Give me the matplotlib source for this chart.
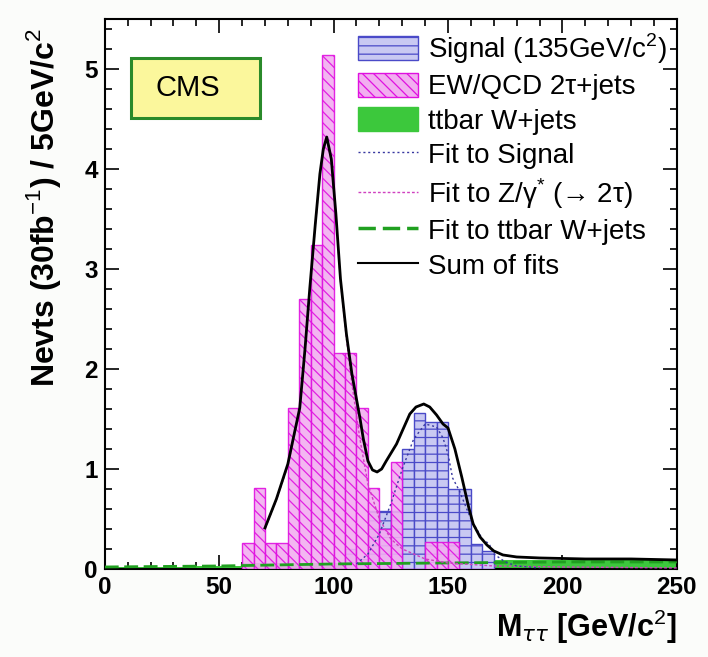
import numpy as np
import matplotlib
matplotlib.use("Agg")
import matplotlib.pyplot as plt
from matplotlib.patches import Patch, Rectangle
from matplotlib.lines import Line2D
from matplotlib.ticker import MultipleLocator

plt.rcParams['font.family'] = ['Liberation Sans', 'DejaVu Sans']
plt.rcParams['mathtext.fontset'] = 'custom'
plt.rcParams['mathtext.rm'] = 'Liberation Sans'
plt.rcParams['mathtext.bf'] = 'Liberation Sans:bold'
plt.rcParams['hatch.linewidth'] = 0.9

# ---------------- data ----------------
bin_left = [60, 65, 70, 75, 80, 85, 90, 95, 100, 105, 110, 115, 120, 125, 130,
            135, 140, 145, 150, 155, 160, 165]
ew_qcd = [0.26, 0.81, 0.26, 0.26, 1.61, 2.70, 3.24, 5.14, 2.16, 2.16, 1.61, 0.81,
          0.40, 1.07, 0.0, 0.0, 0.27, 0.27, 0.27, 0.0, 0.0, 0.0]
signal = [0.0, 0.0, 0.0, 0.0, 0.0, 0.0, 0.0, 0.0, 0.0, 0.20, 0.10, 0.58,
          0.58, 0.58, 1.20, 1.56, 1.47, 1.47, 0.80, 0.80, 0.25, 0.18]

tt_left = list(range(0, 250, 5))
ttbar = [0.02] * 8 + [0.03] * 4 + [0.06] * 14 + [0.09] * 24

sum_x = [70, 75, 80, 85.2, 87.5, 89.6, 92, 94, 95.5, 97, 99, 101, 103, 105.6, 108,
         111.5, 113, 115, 117, 119, 121, 123, 127.5, 130, 133.3, 136, 139.4, 142,
         145, 147.8, 150, 153, 156, 159, 161, 164, 167, 170, 174, 180, 190, 210,
         230, 250]
sum_y = [0.41, 0.70, 1.05, 1.61, 2.20, 2.81, 3.45, 3.95, 4.20, 4.32, 4.10, 3.55,
         2.90, 2.35, 1.95, 1.51, 1.30, 1.08, 0.99, 0.97, 1.00, 1.08, 1.25, 1.38,
         1.55, 1.62, 1.65, 1.62, 1.54, 1.45, 1.41, 1.20, 0.92, 0.62, 0.45, 0.32,
         0.24, 0.18, 0.14, 0.12, 0.11, 0.10, 0.10, 0.09]

sig_x = [110, 115, 120, 125, 130, 135, 140, 145, 147.8, 150, 152, 155, 158, 160,
         163, 165, 168, 170, 175, 180, 190]
sig_y = [0.05, 0.15, 0.35, 0.65, 1.00, 1.30, 1.45, 1.42, 1.31, 1.15, 0.91, 0.78,
         0.61, 0.50, 0.38, 0.30, 0.25, 0.15, 0.07, 0.03, 0.01]

z_x = [70, 75, 80, 85.2, 87.5, 89.6, 92, 94, 95.5, 97, 99, 101, 103, 105.6, 108,
       111.5, 115, 120, 125, 130, 140, 150, 170, 200, 250]
z_y = [0.40, 0.69, 1.03, 1.59, 2.18, 2.79, 3.43, 3.93, 4.18, 4.30, 4.08, 3.53,
       2.88, 2.30, 1.85, 1.30, 0.85, 0.50, 0.30, 0.20, 0.10, 0.06, 0.03, 0.02,
       0.01]

tt_x = [0, 50, 100, 150, 200, 250]
tt_y = [0.02, 0.03, 0.05, 0.06, 0.07, 0.07]

x_ticks = [0, 50, 100, 150, 200, 250]
y_ticks = [0, 1, 2, 3, 4, 5]

legend_labels = ["Signal (135GeV/c$^{2}$)", "EW/QCD 2\u03c4+jets", "ttbar W+jets",
                 "Fit to Signal", "Fit to Z/\u03b3$^{*}$ (\u2192 2\u03c4)",
                 "Fit to ttbar W+jets", "Sum of fits"]

# ---------------- style ----------------
sig_edge = '#4a4ac8'
sig_face = '#c9c9f2'
ew_edge = '#e010e0'
ew_face = '#f2aef0'
tt_face = '#3cc83c'

fig = plt.figure(figsize=(7.08, 6.57), dpi=100, facecolor='#fbfcfa')
ax = fig.add_axes([0.148, 0.134, 0.808, 0.837])
ax.set_facecolor('white')

ax.bar(tt_left, ttbar, width=5, align='edge', color=tt_face, edgecolor=tt_face,
       linewidth=0, zorder=2)
ax.bar(bin_left, signal, width=5, align='edge', facecolor=sig_face,
       edgecolor=sig_edge, hatch='--', linewidth=1.0, zorder=3)
ax.bar(bin_left, ew_qcd, width=5, align='edge', facecolor=ew_face,
       edgecolor=ew_edge, hatch='\\\\\\', linewidth=1.0, zorder=4, alpha=0.9)

ax.plot(tt_x, tt_y, color='#20a020', lw=2, ls=(0, (5, 2)), zorder=5)
ax.plot(z_x, z_y, color='#d040c0', lw=1, ls=(0, (2, 1.5)), zorder=5)
ax.plot(sig_x, sig_y, color='#3838a0', lw=1, ls=(0, (1.5, 2)), zorder=5)
ax.plot(sum_x, sum_y, color='black', lw=2.0, zorder=6)

ax.set_xlim(0, 250)
ax.set_ylim(0, 5.5)
ax.set_xticks(x_ticks)
ax.set_yticks(y_ticks)
ax.xaxis.set_minor_locator(MultipleLocator(10))
ax.yaxis.set_minor_locator(MultipleLocator(0.2))
ax.tick_params(which='both', direction='in', top=True, right=True, width=1.2)
ax.tick_params(which='major', length=10, labelsize=17.5, pad=5)
ax.tick_params(which='minor', length=5)
for lab in ax.get_xticklabels() + ax.get_yticklabels():
    lab.set_fontweight('bold')
for s in ax.spines.values():
    s.set_linewidth(1.5)

ax.set_xlabel("M$_{\\tau\\tau}$ [GeV/c$^{2}$]", fontsize=22, fontweight='bold',
              loc='right', labelpad=6)
ax.set_ylabel("Nevts (30fb$^{-1}$) / 5GeV/c$^{2}$", fontsize=23,
              fontweight='bold', loc='top')
ax.yaxis.set_label_coords(-0.073, 0.984)

handles = [
    Patch(facecolor=sig_face, edgecolor=sig_edge, hatch='--', linewidth=1.0),
    Patch(facecolor=ew_face, edgecolor=ew_edge, hatch='\\\\\\', linewidth=1.0),
    Patch(facecolor=tt_face, edgecolor=tt_face, linewidth=1.0),
    Line2D([], [], color='#3838a0', lw=1, ls=(0, (1.5, 2))),
    Line2D([], [], color='#d040c0', lw=1, ls=(0, (2, 1.5))),
    Line2D([], [], color='#20a020', lw=2.5, ls=(0, (5, 2))),
    Line2D([], [], color='black', lw=1.5),
]
leg = ax.legend(handles, legend_labels, loc='upper left',
                bbox_to_anchor=(0.423, 0.998), frameon=False, fontsize=20,
                handlelength=2.16, handleheight=0.97, handletextpad=0.36,
                labelspacing=0.245, borderaxespad=0.0)

# CMS box
ax.add_patch(Rectangle((0.045, 0.820), 0.226, 0.109, transform=ax.transAxes,
                       facecolor='#fbf79c', edgecolor='#2a8a2a', linewidth=2.2,
                       zorder=9))
ax.text(0.145, 0.874, "CMS", transform=ax.transAxes, fontsize=21,
        ha='center', va='center', zorder=10)

fig.savefig("out.png", dpi=100, facecolor=fig.get_facecolor())
